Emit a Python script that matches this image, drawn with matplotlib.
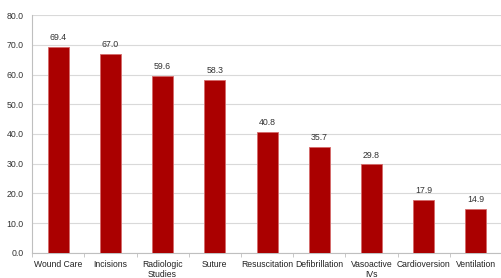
import matplotlib
matplotlib.use('Agg')
import matplotlib.pyplot as plt
import numpy as np

plt.rcParams['font.family'] = ['Liberation Sans', 'DejaVu Sans']

categories = ['Wound Care', 'Incisions', 'Radiologic\nStudies', 'Suture', 'Resuscitation',
              'Defibrillation', 'Vasoactive\nIVs', 'Cardioversion', 'Ventilation']
values = [69.4, 67.0, 59.6, 58.3, 40.8, 35.7, 29.8, 17.9, 14.9]

fig = plt.figure(figsize=(5.02, 2.78), dpi=100)
ax = fig.add_axes([0.064, 0.09, 0.936, 0.856])

x = np.arange(len(categories))
ax.bar(x, values, width=0.4, color='#aa0000', edgecolor='#d46a6a', linewidth=0.6, zorder=3)
for xi, v in zip(x, values):
    ax.text(xi, v + 1.5, f'{v:.1f}', ha='center', va='bottom', fontsize=6.3, color='#333333')

ax.set_ylim(0, 80)
ax.set_xlim(-0.5, len(categories) - 0.5)
yt = np.arange(0, 81, 10)
ax.set_yticks(yt)
ax.set_yticklabels([f'{t:.1f}' for t in yt], fontsize=6.3, color='#333333')
ax.yaxis.grid(True, color='#d9d9d9', linewidth=0.8, zorder=0)
ax.tick_params(axis='y', length=0, pad=6)

ax.set_xticks(x)
ax.set_xticklabels(categories, fontsize=6.2, color='#222222', linespacing=1.1)
ax.set_xticks(np.arange(-0.5, len(categories), 1), minor=True)
ax.tick_params(axis='x', which='major', length=0, pad=5)
ax.tick_params(axis='x', which='minor', length=3, color='#bfbfbf')

for s in ['top', 'right']:
    ax.spines[s].set_visible(False)
ax.spines['left'].set_color('#bfbfbf')
ax.spines['bottom'].set_color('#bfbfbf')

fig.savefig('out.png', dpi=100)
